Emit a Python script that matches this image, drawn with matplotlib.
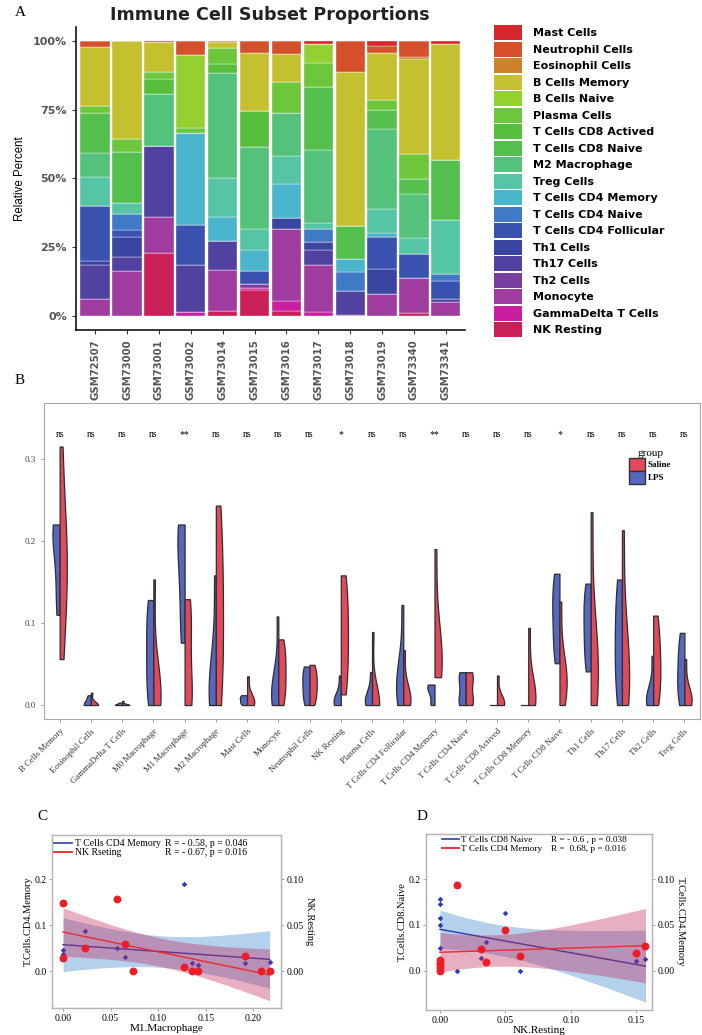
import numpy as np
import pandas as pd
import matplotlib
matplotlib.use("Agg")
import matplotlib.pyplot as plt
from matplotlib.patches import Patch
from matplotlib.lines import Line2D
import seaborn as sns

SERIF = ["Liberation Serif", "DejaVu Serif"]

# ---------------- panel A: stacked subset proportions (% of each sample) ----
samples = ["GSM72507", "GSM73000", "GSM73001", "GSM73002", "GSM73014", "GSM73015",
           "GSM73016", "GSM73017", "GSM73018", "GSM73019", "GSM73340", "GSM73341"]
subsets = ["Mast Cells", "Neutrophil Cells", "Eosinophil Cells", "B Cells Memory",
           "B Cells Naive", "Plasma Cells", "T Cells CD8 Actived", "T Cells CD8 Naive",
           "M2 Macrophage", "Treg Cells", "T Cells CD4 Memory", "T Cells CD4 Naive",
           "T Cells CD4 Follicular", "Th1 Cells", "Th17 Cells", "Th2 Cells",
           "Monocyte", "GammaDelta T Cells", "NK Resting"]
subset_colors = ["#d7272e", "#d6502c", "#cf822b", "#c4c02f", "#93d130", "#6ec63a",
                 "#58bf3c", "#54bf4c", "#55c27c", "#55c5a5", "#4bb6cb", "#4079c6",
                 "#3a53b0", "#3a45a2", "#5141a0", "#7740a0", "#a03ca0", "#c91ea0",
                 "#cc1f58"]
# one row per subset (legend order), one value per sample
pct = [
    [0, 0, 0.6, 0, 0, 0, 0, 1.2, 0, 1.9, 0, 1.2],              # Mast
    [2.2, 0, 0, 5.2, 0.5, 4.6, 4.8, 0, 11.3, 2.7, 5.8, 0],     # Neutrophil
    [0, 0, 0, 0, 0, 0, 0, 0, 0, 0, 0.8, 0],                    # Eosinophil
    [21.5, 35.8, 10.7, 0, 2.1, 20.9, 10.3, 0, 56.1, 17.0, 34.6, 42.1],
    [0, 0, 0, 26.6, 0, 0, 0, 7.0, 0, 0, 0, 0],                 # B naive
    [2.7, 4.7, 2.7, 1.6, 5.7, 0, 11.3, 8.5, 0, 3.6, 9.1, 0],   # Plasma
    [0, 0, 5.2, 0, 3.6, 13.0, 0, 0, 0, 0, 0, 0],               # CD8 actived
    [14.5, 18.5, 0, 0, 0, 0, 0, 23.0, 12.1, 6.9, 5.3, 21.8],   # CD8 naive
    [8.7, 0, 19.0, 0, 37.9, 29.7, 15.5, 26.3, 0, 29.2, 15.9, 0],
    [10.4, 3.9, 0, 0, 14.2, 7.6, 10.2, 2.4, 0, 8.4, 5.7, 19.6],
    [0, 0, 0, 33.5, 8.7, 7.9, 12.1, 0, 4.7, 1.8, 0, 0],        # CD4 memory
    [0, 5.8, 0, 0, 0, 0, 0, 4.6, 6.8, 0, 0, 2.4],              # CD4 naive
    [19.9, 2.4, 0, 14.5, 0, 4.7, 0, 0, 0, 11.3, 8.7, 6.7],     # CD4 follicular
    [1.6, 7.3, 0, 0, 0, 0, 4.0, 3.0, 0, 9.1, 0, 0],            # Th1
    [12.1, 5.2, 25.8, 16.9, 10.4, 0, 0, 5.4, 8.5, 0, 0, 1.2],  # Th17
    [0, 0, 0, 0, 0, 1.2, 0, 0, 0, 0, 0, 0],                    # Th2
    [6.4, 16.3, 13.3, 0, 15.1, 0, 26.4, 16.9, 0, 8.2, 12.8, 5.0],
    [0, 0, 0, 1.6, 0, 1.0, 3.6, 1.6, 0.6, 0, 0, 0],            # GammaDelta
    [0, 0, 22.8, 0, 1.8, 9.4, 1.8, 0, 0, 0, 1.2, 0],           # NK resting
]

# ---------------- panel B: split violins LPS vs Saline ----------------------
cells = ["B Cells Memory", "Eosinophil Cells", "GammaDelta T Cells", "M0 Macrophage",
         "M1 Macrophage", "M2 Macrophage", "Mast Cells", "Monocyte", "Neutrophil Cells",
         "NK Resting", "Plasma Cells", "T Cells CD4 Follicular", "T Cells CD4 Memory",
         "T Cells CD4 Naive", "T Cells CD8 Actived", "T Cells CD8 Memory",
         "T Cells CD8 Naive", "Th1 Cells", "Th17 Cells", "Th2 Cells", "Treg Cells"]
sig = ["ns", "ns", "ns", "ns", "**", "ns", "ns", "ns", "ns", "*", "ns",
       "ns", "**", "ns", "ns", "ns", "*", "ns", "ns", "ns", "ns"]
lps_vals = [
    [0.110, 0.140, 0.190, 0.212, 0.218, 0.220],
    [0, 0, 0, 0.004, 0.008, 0.012],
    [0, 0, 0, 0.001, 0.002, 0.003],
    [0, 0.020, 0.050, 0.080, 0.110, 0.128],
    [0.076, 0.110, 0.160, 0.200, 0.215, 0.220],
    [0, 0, 0.010, 0.030, 0.060, 0.158],
    [0, 0.002, 0.005, 0.008, 0.011, 0.012],
    [0, 0.005, 0.010, 0.020, 0.035, 0.108],
    [0, 0.008, 0.020, 0.030, 0.042, 0.047],
    [0, 0, 0.003, 0.008, 0.015, 0.036],
    [0, 0, 0.004, 0.010, 0.018, 0.040],
    [0, 0.010, 0.020, 0.035, 0.050, 0.122],
    [0, 0.002, 0.018, 0.021, 0.024, 0.025],
    [0, 0.003, 0.008, 0.030, 0.036, 0.040],
    [0, 0, 0, 0, 0, 0],
    [0, 0, 0, 0, 0, 0],
    [0.051, 0.070, 0.100, 0.120, 0.145, 0.160],
    [0.041, 0.060, 0.085, 0.110, 0.130, 0.148],
    [0, 0.030, 0.060, 0.090, 0.125, 0.153],
    [0, 0, 0.005, 0.010, 0.020, 0.060],
    [0, 0.015, 0.030, 0.050, 0.070, 0.088],
]
saline_vals = [
    [0.056, 0.120, 0.160, 0.190, 0.220, 0.315],
    [0, 0, 0, 0, 0, 0.015],
    [0, 0, 0, 0, 0, 0.005],
    [0, 0, 0.010, 0.020, 0.030, 0.153],
    [0, 0.005, 0.020, 0.080, 0.110, 0.129],
    [0, 0.040, 0.090, 0.140, 0.190, 0.243],
    [0, 0, 0.003, 0.006, 0.012, 0.035],
    [0, 0.015, 0.030, 0.050, 0.065, 0.080],
    [0, 0.010, 0.020, 0.030, 0.040, 0.049],
    [0.013, 0.040, 0.070, 0.100, 0.130, 0.158],
    [0, 0, 0, 0, 0.004, 0.089],
    [0, 0, 0.005, 0.010, 0.020, 0.067],
    [0.034, 0.040, 0.050, 0.065, 0.100, 0.190],
    [0, 0.003, 0.008, 0.030, 0.036, 0.040],
    [0, 0, 0, 0.004, 0.010, 0.036],
    [0, 0, 0.005, 0.015, 0.030, 0.094],
    [0, 0.020, 0.030, 0.035, 0.050, 0.126],
    [0, 0.020, 0.040, 0.060, 0.090, 0.235],
    [0, 0.010, 0.030, 0.060, 0.090, 0.213],
    [0, 0.020, 0.040, 0.060, 0.085, 0.109],
    [0, 0, 0.005, 0.010, 0.020, 0.056],
]
group_colors = {"LPS": "#5567be", "Saline": "#e04a5b"}

# ---------------- panels C and D: correlations -------------------------------
c_m1 = [0.0, 0.0, 0.023, 0.057, 0.065, 0.074, 0.127, 0.136, 0.142, 0.191, 0.208, 0.217]
c_cd4mem = [0.047, 0.038, 0.087, 0.050, 0.031, 0.0, 0.189, 0.017, 0.013, 0.017, 0.0, 0.021]
c_nk = [0.0745, 0.014, 0.025, 0.079, 0.030, 0.0, 0.005, 0.0, 0.0, 0.017, 0.0, 0.0]
c_text = ["R = - 0.58, p = 0.046", "R = - 0.67, p = 0.016"]

d_nk = [0.0, 0.0, 0.0, 0.0, 0.0, 0.0133, 0.0315, 0.0354, 0.050, 0.061, 0.150, 0.157]
d_cd8naive = [0.157, 0.146, 0.115, 0.101, 0.049, 0.0, 0.028, 0.064, 0.125, 0.0, 0.022, 0.025]
d_cd4mem = [0.0115, 0.009, 0.007, 0.0047, 0.0, 0.094, 0.024, 0.0095, 0.044, 0.0163, 0.0196, 0.0267]
d_text = ["R = - 0.6 , p = 0.038", "R =  0.68, p = 0.016"]

T_CRIT = 2.228  # t(0.975, df=10)


def fit_band(x, y):
    x = np.asarray(x, float); y = np.asarray(y, float)
    b, a = np.polyfit(x, y, 1)
    xs = np.linspace(x.min(), x.max(), 100)
    yh = a + b * xs
    s = np.sqrt(((y - (a + b * x)) ** 2).sum() / (len(x) - 2))
    se = s * np.sqrt(1 / len(x) + (xs - x.mean()) ** 2 / ((x - x.mean()) ** 2).sum())
    return xs, yh, yh - T_CRIT * se, yh + T_CRIT * se


fig = plt.figure(figsize=(7.02, 10.35), dpi=100)

# ======================= A =======================
ax_a = fig.add_axes([0.1083, 0.6812, 0.554, 0.2928])
props = np.array(pct, float)
props = props / props.sum(axis=0)
xa = np.arange(len(samples))
bottom = np.zeros(len(samples))
for col, row in reversed(list(zip(subset_colors, props))):
    ax_a.bar(xa, row, bottom=bottom, width=0.92, color=col, edgecolor="white", linewidth=0.25)
    bottom += row
ax_a.set_xlim(-0.6, 11.6)
ax_a.set_ylim(-0.05, 1.05)
ax_a.set_yticks([0, 0.25, 0.5, 0.75, 1.0])
ax_a.set_yticklabels(["0%", "25%", "50%", "75%", "100%"], fontsize=8, fontweight="bold", color="#555555")
ax_a.set_xticks(xa)
ax_a.set_xticklabels(samples, rotation=90, fontsize=7.3, fontweight="bold", color="#555555")
for s in ["top", "right"]:
    ax_a.spines[s].set_visible(False)
ax_a.spines["left"].set_linewidth(1.1)
ax_a.spines["bottom"].set_linewidth(1.1)
ax_a.tick_params(length=3, width=0.8, color="#333333")
ax_a.set_ylabel("Relative Percent", fontsize=8.3, labelpad=5,
                family=["Liberation Sans", "DejaVu Sans"])
fig.text(0.385, 0.9855, "Immune Cell Subset Proportions", ha="center", va="center",
         fontsize=12.6, fontweight="bold", color="#222222")
handles = [Patch(facecolor=c, edgecolor="none") for c in subset_colors]
fig.legend(handles, subsets, loc="upper left", bbox_to_anchor=(494 / 702, 1 - 25 / 1035),
           frameon=False, prop={"size": 8, "weight": "bold"}, handlelength=2.5,
           handleheight=1.70, labelspacing=0.135, handletextpad=1.0, borderpad=0,
           borderaxespad=0)
fig.text(0.021, 0.988, "A", fontsize=11, family=SERIF, va="center")

# ======================= B =======================
ax_b = fig.add_axes([0.0627, 0.3053, 0.9345, 0.3053])
rows = []
for cell, lv, sv in zip(cells, lps_vals, saline_vals):
    rows += [(cell, "LPS", v) for v in lv] + [(cell, "Saline", v) for v in sv]
df_b = pd.DataFrame(rows, columns=["cell", "group", "value"])
sns.violinplot(data=df_b, x="cell", y="value", hue="group", order=cells,
               hue_order=["LPS", "Saline"], split=True, inner=None, cut=0,
               density_norm="width", width=0.46, palette=group_colors, saturation=1,
               linewidth=0.9, linecolor="#2e2e2e", legend=False, ax=ax_b)
ax_b.set_xlim(-0.5, len(cells) - 0.5)
ax_b.set_ylim(-0.017, 0.368)
ax_b.set_xlabel(""); ax_b.set_ylabel("")
ax_b.set_yticks([0, 0.1, 0.2, 0.3])
ax_b.set_yticklabels(["0.0", "0.1", "0.2", "0.3"], fontsize=6.5, family=SERIF, color="#444444")
ax_b.set_xticks(range(len(cells)))
ax_b.set_xticklabels(cells, rotation=45, ha="right", rotation_mode="anchor",
                     fontsize=6.3, family=SERIF, color="#333333")
for s in ax_b.spines.values():
    s.set_color("#aaaaaa"); s.set_linewidth(0.8)
ax_b.tick_params(length=2.5, width=0.6, color="#888888")
for i, s in enumerate(sig):
    ax_b.text(i, 0.33, s, ha="center", va="center", fontsize=7, family=SERIF)
leg_h = [Patch(facecolor=group_colors["Saline"], edgecolor="#333333", linewidth=1),
         Patch(facecolor=group_colors["LPS"], edgecolor="#333333", linewidth=1)]
ax_b.legend(leg_h, ["Saline", "LPS"], title="group", loc="upper right",
            bbox_to_anchor=(0.963, 0.87), frameon=False,
            title_fontproperties={"family": SERIF, "size": 8},
            prop={"family": SERIF, "size": 6.5, "weight": "bold"},
            handlelength=1.7, handleheight=1.84, labelspacing=0.0,
            handletextpad=0.35, borderpad=0)
fig.text(0.021, 1 - 380 / 1035, "B", fontsize=11, family=SERIF, va="center")


# ======================= C / D =======================
def corr_panel(rect, x, yb, yr, labels, xlabel, ylab_l, ylab_r, ylim, xlim,
               xticks, leg_anchor, fs):
    ax = fig.add_axes(rect)
    ax2 = ax.twinx()
    xs, yh, lo, hi = fit_band(x, yb)
    ax.fill_between(xs, lo, hi, color="#4a8fd6", alpha=0.42, lw=0)
    ax.plot(xs, yh, color="#2b36b0", lw=1.0)
    ax.scatter(x, yb, marker="D", s=8, color="#2b3ab8", zorder=3, lw=0)
    xs, yh, lo, hi = fit_band(x, yr)
    ax2.fill_between(xs, lo, hi, color="#c42a5e", alpha=0.38, lw=0)
    ax2.plot(xs, yh, color="#ee2a2a", lw=1.0)
    ax2.scatter(x, yr, s=32, color="#ee1c25", zorder=3, lw=0)
    ax.set_ylim(*ylim)
    ax2.set_ylim(ylim[0] / 2, ylim[1] / 2)
    ax.set_xlim(*xlim)
    ax.set_xticks(xticks)
    ax.set_xticklabels([f"{t:.2f}" for t in xticks], fontsize=7, family=SERIF)
    ax.set_yticks([0, 0.1, 0.2])
    ax.set_yticklabels(["0.0", "0.1", "0.2"], fontsize=7, family=SERIF)
    ax2.set_yticks([0, 0.05, 0.10])
    ax2.set_yticklabels(["0.00", "0.05", "0.10"], fontsize=7, family=SERIF)
    for a in (ax, ax2):
        for s in a.spines.values():
            s.set_color("#b5b5b5"); s.set_linewidth(0.9)
        a.tick_params(length=2.5, width=0.6, color="#999999", pad=1.5)
    ax.set_xlabel(xlabel, fontsize=8, family=SERIF, labelpad=1)
    ax.set_ylabel(ylab_l, fontsize=7.5, family=SERIF, labelpad=1)
    ax2.set_ylabel(ylab_r, fontsize=7.5, family=SERIF, rotation=270, labelpad=7)
    lh = [Line2D([], [], color="#3f4fa8", lw=1.3), Line2D([], [], color="#e8252b", lw=1.3)]
    leg = ax2.legend(lh, labels, loc="upper left", bbox_to_anchor=leg_anchor, frameon=False,
                     prop={"family": SERIF, "size": fs}, handlelength=1.8, handletextpad=0.3,
                     labelspacing=0.0, borderpad=0, borderaxespad=0)
    return ax2, leg


ax_c2, leg_c = corr_panel([0.0741, 0.0261, 0.3262, 0.1671], c_m1, c_cd4mem, c_nk,
                          ["T Cells CD4 Memory", "NK Rseting"], "M1.Macrophage",
                          "T.Cells.CD4.Memory", "NK.Resting", (-0.080, 0.296),
                          (-0.0116, 0.229), [0, 0.05, 0.10, 0.15, 0.20], (0.01, 0.975), 7)
ax_d2, leg_d = corr_panel([0.6068, 0.0242, 0.322, 0.170], d_nk, d_cd8naive, d_cd4mem,
                          ["T Cells CD8 Naive", "T Cells CD4 Memory"], "NK.Resting",
                          "T.Cells.CD8.Naive", "T.Cells.CD4.Memory", (-0.085, 0.298),
                          (-0.0107, 0.162), [0, 0.05, 0.10, 0.15], (0.07, 0.99), 6.7)
fig.text(37 / 702, 1 - 817 / 1035, "C", fontsize=11, family=SERIF, va="center")
fig.text(417 / 702, 1 - 817 / 1035, "D", fontsize=11, family=SERIF, va="center")

# R / p annotations placed on the same rows as the legend entries
fig.canvas.draw()
for ax2, leg, rx, rtext, fs in [(ax_c2, leg_c, 0.493, c_text, 7), (ax_d2, leg_d, 0.553, d_text, 6.7)]:
    for t, txt in zip(leg.get_texts(), rtext):
        bb = t.get_window_extent()
        yy = ax2.transAxes.inverted().transform((0, (bb.y0 + bb.y1) / 2))[1]
        ax2.text(rx, yy, txt, transform=ax2.transAxes, fontsize=fs, family=SERIF, va="center")

fig.savefig("out.png", dpi=100)
